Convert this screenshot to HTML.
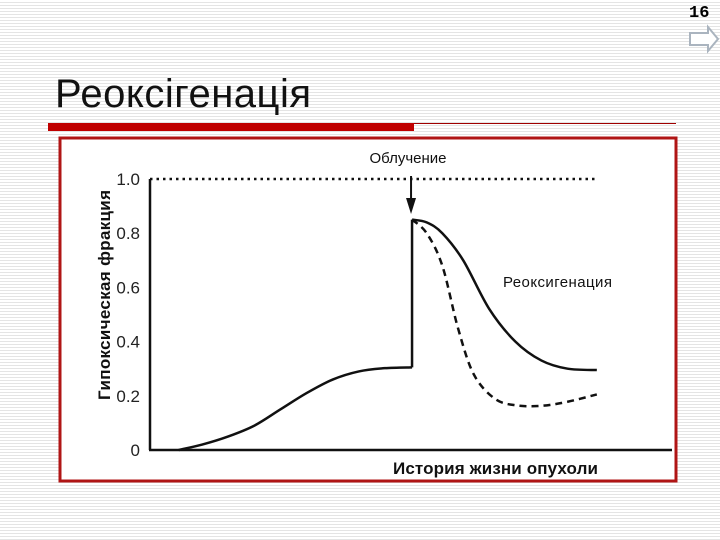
<!DOCTYPE html>
<html><head><meta charset="utf-8"><style>
body{margin:0;width:720px;height:540px;overflow:hidden;background:repeating-linear-gradient(#fff 0,#fff 2px,#e4e4e4 2px,#e4e4e4 3px);font-family:"Liberation Sans",sans-serif;position:relative}
</style></head><body>
<div style="position:absolute;left:689px;top:4px;font:bold 17px 'Liberation Mono',monospace;">16</div>
<svg style="position:absolute;left:688px;top:24px" width="32" height="30"><path d="M2 9H20V3L30 15L20 27V21H2Z" fill="#fff" stroke="#aab4bf" stroke-width="2"/></svg>
<div style="position:absolute;left:55px;top:72px;font-size:40px;color:#111;letter-spacing:0.5px">Реоксігенація</div>
<div style="position:absolute;left:48px;top:123px;width:366px;height:8px;background:#c00000"></div>
<div style="position:absolute;left:414px;top:123px;width:262px;height:1px;background:#a00000"></div>
<svg style="position:absolute;left:0;top:0" width="720" height="540">
<rect x="60" y="138" width="616" height="343" fill="#fff" stroke="#b01515" stroke-width="3"/>
<g id="g"></g>
</svg>
<script>
const yTicks=[0,0.2,0.4,0.6,0.8,1.0];
const yTickLabels=["0","0.2","0.4","0.6","0.8","1.0"];
const solidX=[0.55,1,1.5,2,2.5,3,3.5,4,4.5,5.02];
const solidY=[0,0.02,0.05,0.09,0.15,0.21,0.26,0.29,0.302,0.305];
const reoxX=[5.02,5.3,5.6,6,6.5,7,7.5,8,8.56];
const reoxY=[0.85,0.84,0.80,0.70,0.52,0.40,0.33,0.30,0.295];
const dashX=[5.02,5.3,5.6,5.9,6.2,6.6,7,7.5,8,8.56];
const dashY=[0.85,0.80,0.68,0.45,0.28,0.19,0.165,0.163,0.178,0.205];
const irradX=5.02;
const X=v=>150+v*52.2, Y=v=>450-v*271;
const g=document.getElementById('g'),NS='http://www.w3.org/2000/svg';
function add(t,a,txt){const e=document.createElementNS(NS,t);for(const k in a)e.setAttribute(k,a[k]);if(txt!=null)e.textContent=txt;g.appendChild(e);return e;}
function path(xs,ys){const p=xs.map((x,i)=>[X(x),Y(ys[i])]);let d='M'+p[0];for(let i=0;i<p.length-1;i++){const p0=p[i-1]||p[i],p1=p[i],p2=p[i+1],p3=p[i+2]||p2;d+='C'+(p1[0]+(p2[0]-p0[0])/6)+','+(p1[1]+(p2[1]-p0[1])/6)+' '+(p2[0]-(p3[0]-p1[0])/6)+','+(p2[1]-(p3[1]-p1[1])/6)+' '+p2;}return d;}
let e;
e=add('line',{x1:150,y1:Y(1),x2:150,y2:Y(0),stroke:'#111','stroke-width':2.5});

e=add('line',{x1:149,y1:Y(0),x2:672,y2:Y(0),stroke:'#111','stroke-width':2.5});

e=add('line',{x1:150,y1:Y(1),x2:598,y2:Y(1),stroke:'#111','stroke-width':2.5,'stroke-dasharray':'2.5 4'});

yTicks.forEach((t,i)=>{e=add('text',{x:140,y:Y(t)+6,'text-anchor':'end','font-size':17,fill:'#222'},yTickLabels[i]);
});
e=add('path',{d:path(solidX,solidY),fill:'none',stroke:'#111','stroke-width':2.5});

e=add('line',{x1:X(irradX),y1:Y(solidY[solidY.length-1]),x2:X(irradX),y2:Y(reoxY[0]),stroke:'#111','stroke-width':2.5});

e=add('path',{d:path(reoxX,reoxY),fill:'none',stroke:'#111','stroke-width':2.5});

e=add('path',{d:path(dashX,dashY),fill:'none',stroke:'#111','stroke-width':2.5,'stroke-dasharray':'7 5'});

e=add('line',{x1:X(irradX)-1,y1:176,x2:X(irradX)-1,y2:200,stroke:'#111','stroke-width':2});

e=add('path',{d:`M${X(irradX)-6} 198L${X(irradX)+4} 198L${X(irradX)-1} 214Z`,fill:'#111'});

e=add('text',{x:408,y:163,'text-anchor':'middle','font-size':15,fill:'#111'},'Облучение');

e=add('text',{x:503,y:287,'font-size':15,fill:'#111',textLength:109},'Реоксигенация');

e=add('text',{x:393,y:474,'font-size':17,'font-weight':'bold',fill:'#111',textLength:205},'История жизни опухоли');

e=add('text',{x:110,y:295,'text-anchor':'middle','font-size':17,'font-weight':'bold',fill:'#111',textLength:210,transform:'rotate(-90 110 295)'},'Гипоксическая фракция');

</script>
</body></html>
